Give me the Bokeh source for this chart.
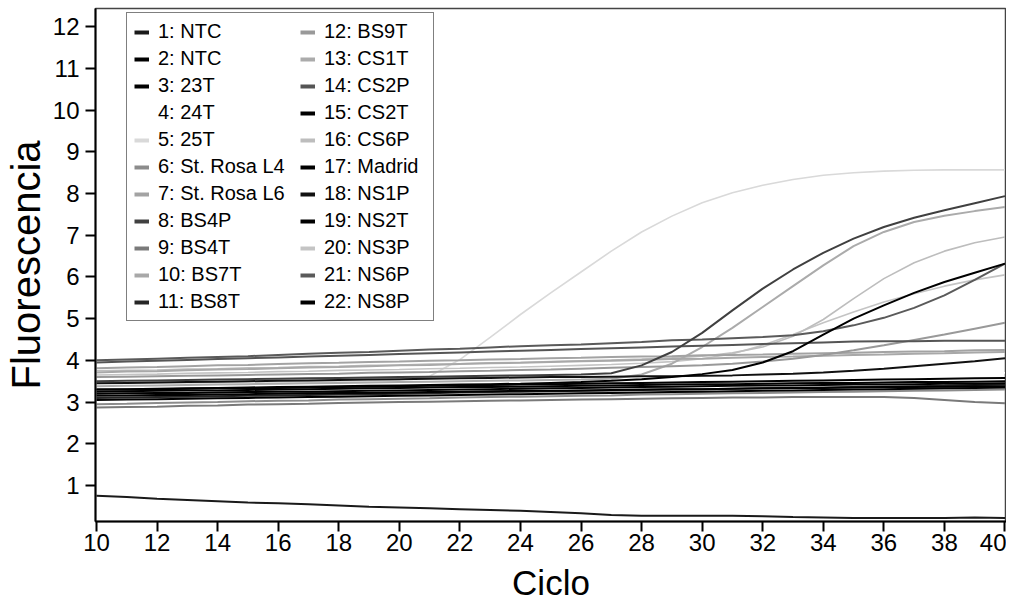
from bokeh.plotting import figure
from bokeh.models import Legend, LegendItem, FixedTicker, Range1d
from bokeh.embed import file_html
from bokeh.resources import INLINE

cycles = [10, 11, 12, 13, 14, 15, 16, 17, 18, 19, 20, 21, 22, 23, 24, 25, 26, 27, 28, 29,
          30, 31, 32, 33, 34, 35, 36, 37, 38, 39, 40]

labels = ["1: NTC", "2: NTC", "3: 23T", "4: 24T", "5: 25T", "6: St. Rosa L4", "7: St. Rosa L6",
          "8: BS4P", "9: BS4T", "10: BS7T", "11: BS8T", "12: BS9T", "13: CS1T", "14: CS2P",
          "15: CS2T", "16: CS6P", "17: Madrid", "18: NS1P", "19: NS2T", "20: NS3P", "21: NS6P",
          "22: NS8P"]

colors = ["#1a1a1a", "#000000", "#000000", "#ffffff", "#d9d9d9", "#8c8c8c", "#a3a3a3",
          "#404040", "#7a7a7a", "#a8a8a8", "#262626", "#999999", "#ababab", "#555555",
          "#000000", "#bdbdbd", "#000000", "#111111", "#000000", "#c4c4c4", "#5a5a5a",
          "#000000"]

s01 = [0.75, 0.72, 0.68, 0.65, 0.62, 0.59, 0.57, 0.55, 0.52, 0.49,
       0.47, 0.45, 0.43, 0.41, 0.39, 0.36, 0.33, 0.29, 0.27, 0.27,
       0.27, 0.27, 0.26, 0.24, 0.23, 0.22, 0.22, 0.22, 0.22, 0.23, 0.22]
s02 = [3.20, 3.21, 3.22, 3.22, 3.23, 3.24, 3.25, 3.25, 3.26, 3.27,
       3.28, 3.29, 3.30, 3.31, 3.32, 3.33, 3.34, 3.35, 3.36, 3.37,
       3.38, 3.39, 3.40, 3.40, 3.41, 3.42, 3.42, 3.43, 3.44, 3.44, 3.45]
s03 = [3.30, 3.30, 3.31, 3.32, 3.33, 3.33, 3.34, 3.35, 3.36, 3.37,
       3.38, 3.39, 3.40, 3.41, 3.42, 3.43, 3.44, 3.45, 3.46, 3.47,
       3.48, 3.49, 3.50, 3.51, 3.52, 3.53, 3.54, 3.55, 3.56, 3.57, 3.58]
s04 = [3.40, 3.41, 3.41, 3.43, 3.44, 3.44, 3.46, 3.47, 3.47, 3.49,
       3.50, 3.51, 3.51, 3.53, 3.54, 3.54, 3.56, 3.57, 3.57, 3.59,
       3.60, 3.61, 3.61, 3.63, 3.64, 3.64, 3.66, 3.67, 3.67, 3.69, 3.70]
s05 = [3.45, 3.45, 3.46, 3.46, 3.47, 3.48, 3.48, 3.49, 3.50, 3.51,
       3.53, 3.62, 4.02, 4.55, 5.10, 5.62, 6.12, 6.62, 7.08, 7.46,
       7.78, 8.02, 8.20, 8.34, 8.44, 8.50, 8.54, 8.56, 8.57, 8.57, 8.57]
s06 = [2.95, 2.96, 2.98, 2.99, 3.00, 3.02, 3.03, 3.04, 3.06, 3.07,
       3.08, 3.09, 3.11, 3.12, 3.13, 3.14, 3.15, 3.16, 3.18, 3.19,
       3.20, 3.21, 3.22, 3.23, 3.24, 3.25, 3.26, 3.27, 3.28, 3.29, 3.30]
s07 = [3.81, 3.83, 3.84, 3.86, 3.88, 3.89, 3.91, 3.93, 3.94, 3.96,
       3.97, 3.99, 4.00, 4.02, 4.03, 4.05, 4.06, 4.08, 4.09, 4.10,
       4.12, 4.13, 4.14, 4.16, 4.17, 4.18, 4.20, 4.21, 4.22, 4.24, 4.25]
s08 = [3.50, 3.51, 3.52, 3.53, 3.54, 3.55, 3.56, 3.57, 3.58, 3.59,
       3.60, 3.61, 3.62, 3.63, 3.64, 3.65, 3.66, 3.69, 3.88, 4.20,
       4.66, 5.20, 5.72, 6.18, 6.58, 6.92, 7.20, 7.42, 7.60, 7.77, 7.94]
s09 = [2.87, 2.88, 2.89, 2.91, 2.92, 2.94, 2.95, 2.96, 2.98, 2.99,
       3.00, 3.01, 3.02, 3.03, 3.04, 3.05, 3.06, 3.07, 3.08, 3.09,
       3.10, 3.11, 3.11, 3.12, 3.12, 3.12, 3.12, 3.10, 3.05, 3.00, 2.97]
s10 = [3.71, 3.73, 3.74, 3.76, 3.78, 3.79, 3.81, 3.83, 3.84, 3.86,
       3.88, 3.89, 3.91, 3.93, 3.94, 3.96, 3.98, 3.99, 4.01, 4.03,
       4.04, 4.06, 4.08, 4.09, 4.11, 4.13, 4.14, 4.16, 4.17, 4.19, 4.20]
s11 = [3.10, 3.11, 3.12, 3.13, 3.14, 3.15, 3.16, 3.17, 3.18, 3.19,
       3.20, 3.21, 3.23, 3.24, 3.25, 3.26, 3.27, 3.28, 3.29, 3.30,
       3.31, 3.32, 3.33, 3.34, 3.35, 3.36, 3.37, 3.38, 3.39, 3.41, 3.42]
s12 = [3.60, 3.61, 3.62, 3.63, 3.64, 3.65, 3.66, 3.67, 3.68, 3.70,
       3.71, 3.72, 3.74, 3.75, 3.77, 3.78, 3.80, 3.82, 3.84, 3.86,
       3.88, 3.92, 3.97, 4.04, 4.13, 4.24, 4.36, 4.49, 4.62, 4.76, 4.90]
s13 = [3.38, 3.39, 3.40, 3.41, 3.42, 3.43, 3.44, 3.45, 3.46, 3.47,
       3.48, 3.49, 3.50, 3.51, 3.52, 3.53, 3.54, 3.56, 3.66, 3.92,
       4.32, 4.78, 5.28, 5.78, 6.28, 6.74, 7.08, 7.32, 7.47, 7.58, 7.68]
s14 = [3.95, 3.97, 3.99, 4.01, 4.03, 4.05, 4.07, 4.09, 4.11, 4.13,
       4.15, 4.17, 4.19, 4.21, 4.23, 4.25, 4.27, 4.29, 4.31, 4.33,
       4.35, 4.37, 4.39, 4.41, 4.43, 4.45, 4.46, 4.46, 4.47, 4.47, 4.47]
s15 = [3.15, 3.16, 3.17, 3.17, 3.18, 3.19, 3.20, 3.21, 3.22, 3.22,
       3.23, 3.24, 3.25, 3.26, 3.27, 3.27, 3.28, 3.29, 3.30, 3.31,
       3.31, 3.32, 3.33, 3.34, 3.34, 3.35, 3.36, 3.36, 3.37, 3.38, 3.38]
s16 = [3.75, 3.76, 3.77, 3.79, 3.80, 3.82, 3.83, 3.85, 3.86, 3.88,
       3.89, 3.91, 3.92, 3.94, 3.95, 3.97, 3.99, 4.01, 4.03, 4.06,
       4.10, 4.18, 4.32, 4.58, 4.98, 5.48, 5.96, 6.34, 6.62, 6.82, 6.96]
s17 = [3.30, 3.31, 3.32, 3.33, 3.34, 3.35, 3.36, 3.37, 3.38, 3.39,
       3.40, 3.41, 3.42, 3.43, 3.44, 3.46, 3.48, 3.51, 3.55, 3.60,
       3.67, 3.77, 3.95, 4.22, 4.62, 5.00, 5.32, 5.62, 5.88, 6.10, 6.32]
s18 = [3.45, 3.46, 3.47, 3.48, 3.49, 3.50, 3.51, 3.52, 3.53, 3.54,
       3.55, 3.56, 3.57, 3.58, 3.59, 3.60, 3.60, 3.61, 3.62, 3.62,
       3.63, 3.64, 3.66, 3.68, 3.71, 3.75, 3.80, 3.86, 3.92, 3.98, 4.05]
s19 = [3.25, 3.26, 3.27, 3.28, 3.28, 3.29, 3.30, 3.31, 3.32, 3.33,
       3.34, 3.35, 3.36, 3.36, 3.37, 3.38, 3.39, 3.40, 3.41, 3.42,
       3.43, 3.43, 3.44, 3.45, 3.46, 3.46, 3.47, 3.48, 3.48, 3.49, 3.50]
s20 = [3.65, 3.66, 3.67, 3.69, 3.70, 3.71, 3.73, 3.74, 3.76, 3.77,
       3.78, 3.80, 3.81, 3.83, 3.84, 3.86, 3.88, 3.90, 3.93, 3.97,
       4.04, 4.16, 4.36, 4.62, 4.90, 5.16, 5.40, 5.60, 5.78, 5.93, 6.05]
s21 = [4.00, 4.02, 4.04, 4.06, 4.08, 4.10, 4.13, 4.16, 4.18, 4.20,
       4.23, 4.26, 4.28, 4.31, 4.34, 4.36, 4.38, 4.41, 4.44, 4.48,
       4.50, 4.53, 4.56, 4.60, 4.70, 4.84, 5.02, 5.26, 5.56, 5.93, 6.32]
s22 = [3.05, 3.06, 3.07, 3.08, 3.09, 3.10, 3.11, 3.12, 3.13, 3.14,
       3.15, 3.16, 3.17, 3.18, 3.19, 3.20, 3.21, 3.22, 3.23, 3.24,
       3.25, 3.26, 3.27, 3.28, 3.29, 3.30, 3.31, 3.32, 3.33, 3.34, 3.35]

series = [s01, s02, s03, s04, s05, s06, s07, s08, s09, s10, s11,
          s12, s13, s14, s15, s16, s17, s18, s19, s20, s21, s22]

x_ticks = [10, 12, 14, 16, 18, 20, 22, 24, 26, 28, 30, 32, 34, 36, 38, 40]
y_ticks = [1, 2, 3, 4, 5, 6, 7, 8, 9, 10, 11, 12]

FONT = "'Liberation Sans', Arial, sans-serif"

p = figure(width=1006, height=604, output_backend="svg", toolbar_location=None,
           x_range=Range1d(9.967, 40.05), y_range=Range1d(0.135, 12.44),
           min_border_left=92, min_border_right=0, min_border_top=8, min_border_bottom=82)
p.background_fill_color = "white"
p.border_fill_color = "white"
p.outline_line_color = "#444444"
p.outline_line_width = 1.5
p.xgrid.visible = False
p.ygrid.visible = False

def brightness(c):
    return int(c[1:3], 16)

# draw light lines first, dark lines on top
order = sorted(range(len(series)), key=lambda i: -brightness(colors[i]))
for i in order:
    lw = 2.0 if brightness(colors[i]) < 0xb0 else 1.6
    p.line(cycles, series[i], line_color=colors[i], line_width=lw)

# legend swatches: thick short dashes (their own renderers, kept outside the visible range)
swatches = [p.line(x=[0, 1], y=[-50, -50], line_color=c, line_width=4) for c in colors]

def make_legend(idx, loc, boxed, label_width):
    lg = Legend(items=[LegendItem(label=labels[i], renderers=[swatches[i]]) for i in idx],
                location=loc)
    lg.label_text_font = FONT
    lg.label_text_font_size = "20px"
    lg.label_text_color = "black"
    lg.glyph_width = 15
    lg.glyph_height = 18
    lg.label_height = 18
    lg.label_width = label_width
    lg.label_standoff = 9
    lg.spacing = 4
    lg.padding = 7
    lg.margin = 0
    if boxed:
        lg.border_line_color = "black"
        lg.border_line_width = 1.5
        lg.background_fill_color = "white"
        lg.background_fill_alpha = 1.0
    else:
        lg.border_line_color = None
        lg.background_fill_alpha = 0.0
    return lg

p.add_layout(make_legend(range(0, 11), (31, 200), True, 268), "center")
p.add_layout(make_legend(range(11, 22), (205, 208), False, 20), "center")

for ax in (p.xaxis[0], p.yaxis[0]):
    ax.axis_line_width = 2
    ax.axis_line_color = "black"
    ax.major_tick_line_width = 2
    ax.major_tick_line_color = "black"
    ax.major_tick_out = 10
    ax.major_tick_in = 0
    ax.minor_tick_line_color = None
    ax.major_label_text_font = FONT
    ax.major_label_text_font_size = "24px"
    ax.major_label_text_color = "black"
    ax.axis_label_text_font = FONT
    ax.axis_label_text_font_style = "normal"
    ax.axis_label_text_color = "black"

p.xaxis[0].ticker = FixedTicker(ticks=x_ticks)
p.yaxis[0].ticker = FixedTicker(ticks=y_ticks)
p.xaxis[0].axis_label = "Ciclo"
p.yaxis[0].axis_label = "Fluorescencia"
p.xaxis[0].axis_label_text_font_size = "35px"
p.yaxis[0].axis_label_text_font_size = "40px"
p.xaxis[0].axis_label_text_line_height = 0.7
p.xaxis[0].major_label_standoff = 2
p.yaxis[0].major_label_standoff = 6
p.xaxis[0].axis_label_standoff = 9
p.yaxis[0].axis_label_standoff = 2

open("out.html", "w").write(file_html(p, INLINE))
